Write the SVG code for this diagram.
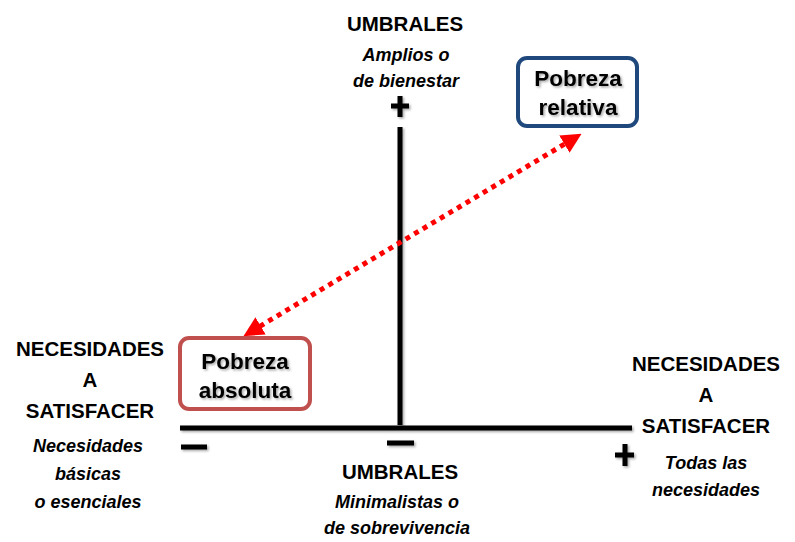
<svg xmlns="http://www.w3.org/2000/svg" width="795" height="542" viewBox="0 0 795 542">
<style>
.h{font-family:"Liberation Sans",Arial,sans-serif;font-weight:bold;font-size:20.5px;fill:#000;text-anchor:middle}
.i{font-family:"Liberation Sans",Arial,sans-serif;font-weight:bold;font-style:italic;font-size:18px;fill:#000;text-anchor:middle}
.b{font-family:"Liberation Sans",Arial,sans-serif;font-weight:bold;font-size:22.5px;fill:#000;text-anchor:middle}
.ax{stroke:#000;stroke-width:5;fill:none}
</style>
<defs>
<filter id="sh" x="-20%" y="-20%" width="140%" height="140%">
<feDropShadow dx="1.5" dy="1.5" stdDeviation="1" flood-color="#000" flood-opacity="0.35"/>
</filter>
<marker id="ar" viewBox="0 0 10 10" refX="5" refY="5" markerWidth="4" markerHeight="4" orient="auto-start-reverse" markerUnits="strokeWidth">
<path d="M0,0 L10,5 L0,10 z" fill="#ff0000"/>
</marker>
</defs>
<g id="axes" filter="url(#sh)">
<line class="ax" x1="400" y1="127" x2="400" y2="425"/>
<line class="ax" x1="180" y1="428" x2="632" y2="428"/>
<line class="ax" x1="391" y1="106" x2="409" y2="106"/>
<line class="ax" x1="400" y1="96" x2="400" y2="117"/>
<line class="ax" x1="387" y1="443" x2="414" y2="443"/>
<line class="ax" x1="181" y1="447" x2="207" y2="447"/>
<line class="ax" x1="615" y1="455" x2="634" y2="455"/>
<line class="ax" x1="625" y1="444" x2="625" y2="466"/>
</g>
<g id="connectors">
<line x1="573" y1="139" x2="252" y2="331" stroke="#ff0000" stroke-width="5" stroke-dasharray="5 5" marker-start="url(#ar)" marker-end="url(#ar)"/>
</g>
<g id="top-label">
<text class="h" x="405" y="31">UMBRALES</text>
<text class="i" x="406" y="61">Amplios o</text>
<text class="i" x="406" y="87">de bienestar</text>
</g>
<g id="bottom-label">
<text class="h" x="400" y="479">UMBRALES</text>
<text class="i" x="397" y="508">Minimalistas o</text>
<text class="i" x="397" y="534">de sobrevivencia</text>
</g>
<g id="left-label">
<text class="h" x="90" y="356">NECESIDADES</text>
<text class="h" x="90" y="387">A</text>
<text class="h" x="90" y="418">SATISFACER</text>
<text class="i" x="88" y="452">Necesidades</text>
<text class="i" x="88" y="480">básicas</text>
<text class="i" x="88" y="508">o esenciales</text>
</g>
<g id="right-label">
<text class="h" x="706" y="371">NECESIDADES</text>
<text class="h" x="706" y="402">A</text>
<text class="h" x="706" y="433">SATISFACER</text>
<text class="i" x="706" y="469">Todas las</text>
<text class="i" x="706" y="496">necesidades</text>
</g>
<g id="pobreza-relativa">
<rect x="518" y="58" width="119" height="68" rx="9" fill="#fff" stroke="#1F497D" stroke-width="4"/>
<text class="b" x="578" y="86" filter="url(#sh)">Pobreza</text>
<text class="b" x="578" y="115" filter="url(#sh)">relativa</text>
</g>
<g id="pobreza-absoluta">
<rect x="180" y="338" width="130" height="71" rx="9" fill="#fff" stroke="#C0504D" stroke-width="4"/>
<text class="b" x="245" y="369" filter="url(#sh)">Pobreza</text>
<text class="b" x="245" y="398" filter="url(#sh)">absoluta</text>
</g>
</svg>
